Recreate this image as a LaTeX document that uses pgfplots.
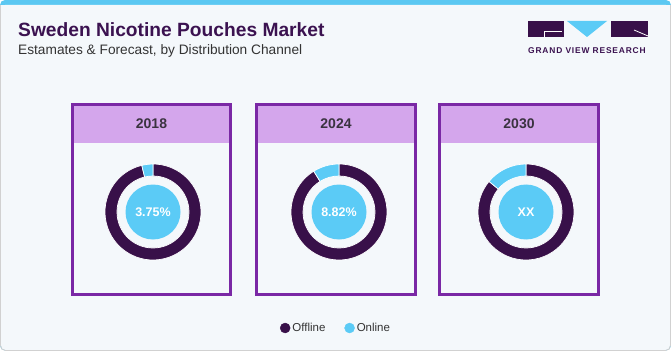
\documentclass[border=0pt]{standalone}
\usepackage{pgfplots}
\pgfplotsset{compat=1.18}
\usepackage{fontspec}
\setmainfont{Liberation Sans}
\newfontfamily\logofont[LetterSpace=10]{Liberation Sans}
\definecolor{offline}{HTML}{381049}
\definecolor{online}{HTML}{5BCBF6}
\definecolor{pborder}{HTML}{7A28A5}
\definecolor{phead}{HTML}{D4A6EC}
\definecolor{bg}{HTML}{F4F8FB}
\definecolor{titlec}{HTML}{3B1250}
\definecolor{subc}{HTML}{333333}
\definecolor{topbar}{HTML}{5BC8F2}
\definecolor{headtxt}{HTML}{3A3340}

\pgfplotsset{donut/.style={width=100pt,height=100pt,scale only axis,
  xmin=-50,xmax=50,ymin=-50,ymax=50,hide axis,clip=false,anchor=center}}

% #1 = online share (%), #2 = centre label
\newcommand{\donutbody}[2]{%
  \addplot[draw=none,forget plot] coordinates {(0,0)};
  \fill[offline,draw=white,line width=0.7pt] (axis cs:0,0) ++({90+3.6*#1}:48pt)
     arc[start angle={90+3.6*#1}, end angle=450, radius=48pt]
     -- ++(270:12pt)
     arc[start angle=450, end angle={90+3.6*#1}, radius=36pt] -- cycle;
  \fill[online,draw=white,line width=0.7pt] (axis cs:0,0) ++(90:48pt)
     arc[start angle=90, end angle={90+3.6*#1}, radius=48pt]
     -- ++({270+3.6*#1}:12pt)
     arc[start angle={90+3.6*#1}, end angle=90, radius=36pt] -- cycle;
  \fill[online] (axis cs:0,0) circle[radius=27.5pt];
  \node[text=white,font=\bfseries\fontsize{12.5}{14}\selectfont] at (axis cs:0,0) {#2};
}

\newcommand{\panel}[3]{%
  \fill[phead] (#1,248) rectangle (#2,208);
  \draw[pborder, line width=2.6pt] (#1+1.3,56.3) rectangle (#2-1.3,246.7);
  \node[text=headtxt, font=\bfseries\fontsize{14}{16}\selectfont] at ({(#1+#2)/2},227) {#3};
}

\begin{document}
\begin{tikzpicture}[x=1pt,y=1pt]
\useasboundingbox (0,0) rectangle (671,351);
\fill[white] (0,0) rectangle (671,351);
\fill[topbar, rounded corners=5pt] (0,0.5) rectangle (671,351);
\fill[bg, rounded corners=4pt] (1,1) rectangle (670,346);
\fill[bg] (1,340) rectangle (670,346);
\draw[black!18, line width=0.9pt, rounded corners=5pt] (0.5,346) -- (0.5,0.5) -- (670.5,0.5) -- (670.5,346);

% titles
\node[anchor=base west, inner sep=0, text=titlec, font=\bfseries\fontsize{19.2}{22}\selectfont] at (18,314.5) {Sweden Nicotine Pouches Market};
\node[anchor=base west, inner sep=0, text=subc, font=\fontsize{13.7}{16}\selectfont] at (18,296) {Estamates \& Forecast, by Distribution Channel};

% logo
\fill[offline] (528,314) rectangle (564,330);
\draw[white, line width=0.8pt] (544,314) -- (544,319.5) -- (562,319.5);
\fill[online] (567,330) -- (607,330) -- (587,314) -- cycle;
\fill[offline] (611,314) rectangle (648,330);
\draw[white, line width=0.8pt] (634,321) -- (648,315);
\node[anchor=base west, inner sep=0, text=titlec, font=\logofont\bfseries\fontsize{8.4}{10}\selectfont] at (528,297) {GRAND VIEW RESEARCH};

% panels
\panel{71}{232}{2018}
\panel{255}{417}{2024}
\panel{438}{600}{2030}

\begin{axis}[donut, at={(153pt,139pt)}]
  \donutbody{3.75}{3.75\%}
\end{axis}

\begin{axis}[donut, at={(339pt,139pt)},
  legend style={at={(0.47,-0.66)},anchor=center,draw=none,fill=none,
    legend columns=2, font=\fontsize{11.5}{13}\selectfont, text=subc,
    /tikz/every even column/.append style={column sep=17pt}},
  legend image code/.code={\fill[#1] (0pt,0pt) circle (5pt);}]
  \donutbody{8.82}{8.82\%}
  \addlegendimage{offline}
  \addlegendentry{Offline}
  \addlegendimage{online}
  \addlegendentry{Online}
\end{axis}

\begin{axis}[donut, at={(526pt,139pt)}]
  \donutbody{14}{XX}
\end{axis}
\end{tikzpicture}
\end{document}
